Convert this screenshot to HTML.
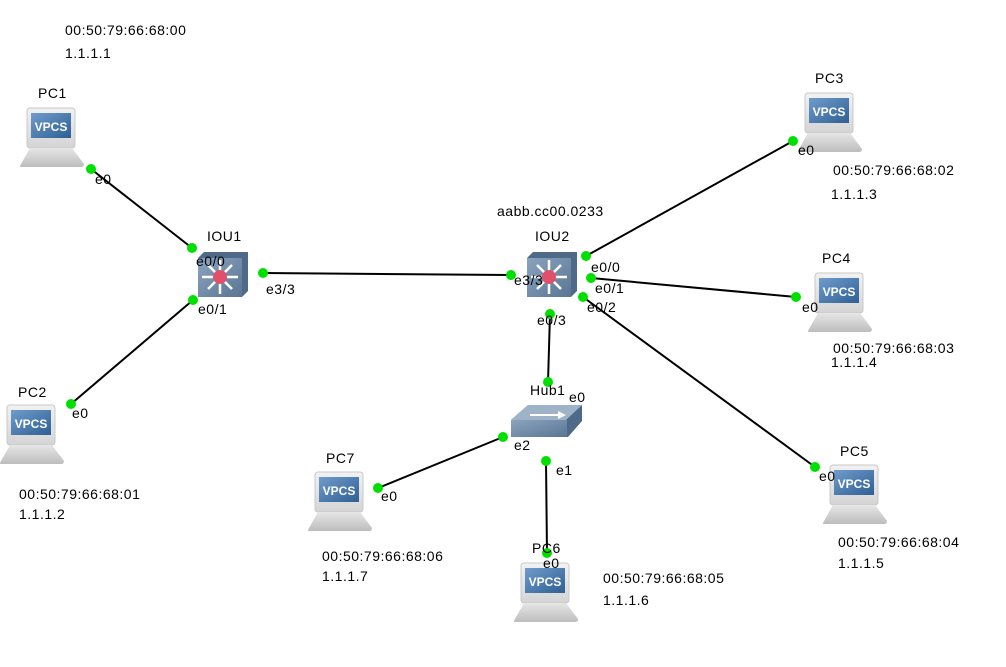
<!DOCTYPE html>
<html><head><meta charset="utf-8"><style>
body{margin:0;background:#fff;width:1006px;height:667px;overflow:hidden}
svg{display:block}
text{font-family:"Liberation Sans","DejaVu Sans",sans-serif;font-size:14px;letter-spacing:0.5px;fill:#000}
</style></head><body>
<svg width="1006" height="667" viewBox="0 0 1006 667">
<defs>
<linearGradient id="scr" x1="0" y1="0" x2="0" y2="1"><stop offset="0" stop-color="#f2f2f2"/><stop offset="1" stop-color="#d4d4d4"/></linearGradient>
<linearGradient id="blu" x1="0" y1="0" x2="1" y2="1"><stop offset="0" stop-color="#6f9ccb"/><stop offset="1" stop-color="#2f5f94"/></linearGradient>
<linearGradient id="bas" x1="0" y1="0" x2="0" y2="1"><stop offset="0" stop-color="#e6e6e6"/><stop offset="1" stop-color="#bdbdbd"/></linearGradient>
<linearGradient id="sw" x1="0" y1="0" x2="1" y2="1"><stop offset="0" stop-color="#8aa3bf"/><stop offset="1" stop-color="#5a7694"/></linearGradient>
<g id="pc">
<rect x="0" y="0" width="48" height="40" rx="3" fill="url(#scr)" stroke="#c8c8c8"/>
<rect x="4" y="5" width="40" height="25" fill="url(#blu)"/>
<text x="24" y="23" text-anchor="middle" style="fill:#fff;font-weight:bold;font-size:12px;letter-spacing:0">VPCS</text>
<path d="M3,40 L45,40 L57,56 Q57,59 54,59 L-6,59 Q-8,59 -6,56 Z" fill="url(#bas)"/>
</g>
<g id="sw3">
<path d="M0,6 L6,0 L50,0 L50,39 L44,45 L0,45 Z" fill="#4e6a88"/>
<rect x="0" y="6" width="44" height="39" fill="url(#sw)"/>
<g stroke="#fff" stroke-width="2.5">
<line x1="4" y1="25" x2="40" y2="25"/><line x1="22" y1="8" x2="22" y2="42"/>
<line x1="10" y1="13" x2="34" y2="37"/><line x1="34" y1="13" x2="10" y2="37"/>
</g>
<circle cx="22" cy="25" r="7" fill="#e0506a"/>
</g>
</defs>
<g stroke="#000" stroke-width="2">
<line x1="91" y1="169" x2="192" y2="248"/>
<line x1="71" y1="404" x2="193" y2="300"/>
<line x1="263" y1="273" x2="511" y2="275"/>
<line x1="586" y1="256" x2="793" y2="141"/>
<line x1="591" y1="278" x2="796" y2="297"/>
<line x1="583" y1="297" x2="815" y2="467"/>
<line x1="550" y1="314" x2="548" y2="382"/>
<line x1="503" y1="437" x2="378" y2="488"/>
<line x1="546" y1="461" x2="547" y2="553"/>
</g>
<use href="#pc" x="27" y="108"/>
<use href="#pc" x="7" y="405"/>
<use href="#pc" x="805" y="93"/>
<use href="#pc" x="815" y="273"/>
<use href="#pc" x="830" y="465"/>
<use href="#pc" x="521" y="563"/>
<use href="#pc" x="315" y="472"/>
<use href="#sw3" x="198" y="252"/>
<use href="#sw3" x="527" y="252"/>
<g>
<path d="M511,420 L528,405 L582,405 L582,421 L568,437 L511,437 Z" fill="#4e6a88"/>
<path d="M511,420 L528,405 L582,405 L566,420 Z" fill="#9fb3c8"/>
<rect x="511" y="420" width="56" height="17" fill="url(#sw)"/>
<path d="M530,414 L558,414 L558,411 L566,415 L558,419 L558,416 L530,416 Z" fill="#fff"/>
</g>
<g fill="#00e000">
<circle cx="91" cy="169" r="5"/><circle cx="192" cy="248" r="5"/>
<circle cx="71" cy="404" r="5"/><circle cx="193" cy="300" r="5"/>
<circle cx="263" cy="273" r="5"/><circle cx="511" cy="275" r="5"/>
<circle cx="586" cy="256" r="5"/><circle cx="793" cy="141" r="5"/>
<circle cx="591" cy="278" r="5"/><circle cx="796" cy="297" r="5"/>
<circle cx="583" cy="297" r="5"/><circle cx="815" cy="467" r="5"/>
<circle cx="550" cy="314" r="5"/><circle cx="548" cy="382" r="5"/>
<circle cx="503" cy="437" r="5"/><circle cx="378" cy="488" r="5"/>
<circle cx="546" cy="461" r="5"/><circle cx="547" cy="553" r="5"/>
</g>
<text x="38" y="98">PC1</text>
<text x="18" y="397">PC2</text>
<text x="815" y="83">PC3</text>
<text x="822" y="263">PC4</text>
<text x="840" y="456">PC5</text>
<text x="532" y="553">PC6</text>
<text x="326" y="463">PC7</text>
<text x="207" y="241">IOU1</text>
<text x="535" y="241">IOU2</text>
<text x="530" y="395">Hub1</text>
<text x="497" y="216">aabb.cc00.0233</text>
<text x="95" y="184">e0</text>
<text x="196" y="266">e0/0</text>
<text x="198" y="314">e0/1</text>
<text x="72" y="418">e0</text>
<text x="266" y="294">e3/3</text>
<text x="514" y="285">e3/3</text>
<text x="591" y="272">e0/0</text>
<text x="595" y="293">e0/1</text>
<text x="587" y="312">e0/2</text>
<text x="537" y="325">e0/3</text>
<text x="569" y="402">e0</text>
<text x="514" y="450">e2</text>
<text x="556" y="475">e1</text>
<text x="381" y="501">e0</text>
<text x="543" y="568">e0</text>
<text x="798" y="155">e0</text>
<text x="802" y="312">e0</text>
<text x="819" y="481">e0</text>
<text x="65" y="35">00:50:79:66:68:00</text>
<text x="65" y="58">1.1.1.1</text>
<text x="19" y="499">00:50:79:66:68:01</text>
<text x="19" y="519">1.1.1.2</text>
<text x="833" y="175">00:50:79:66:68:02</text>
<text x="831" y="199">1.1.1.3</text>
<text x="833" y="353">00:50:79:66:68:03</text>
<text x="831" y="367">1.1.1.4</text>
<text x="838" y="547">00:50:79:66:68:04</text>
<text x="838" y="568">1.1.1.5</text>
<text x="603" y="583">00:50:79:66:68:05</text>
<text x="603" y="605">1.1.1.6</text>
<text x="322" y="561">00:50:79:66:68:06</text>
<text x="322" y="581">1.1.1.7</text>
</svg>
</body></html>
